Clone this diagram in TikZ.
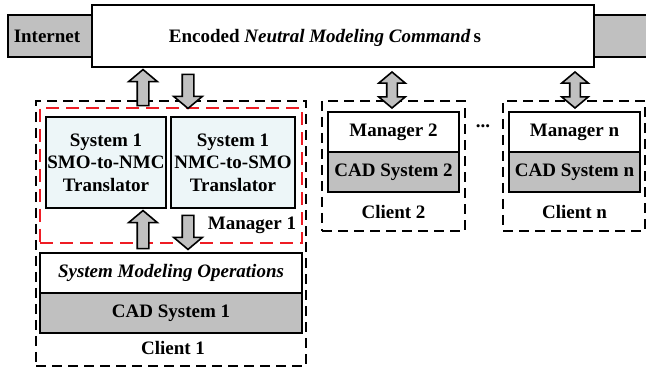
\documentclass[tikz,border=0pt]{standalone}
\usepackage{fontspec}
\setmainfont{Liberation Serif}
\usetikzlibrary{shapes.arrows}
\definecolor{my_gray}{HTML}{C0C0C0}
\definecolor{my_lightcyan}{HTML}{EDF6F8}
\definecolor{my_red}{HTML}{EE1C24}

\begin{document}
\begin{tikzpicture}[
    x=1pt, y=-1pt,
    font=\fontsize{19}{22.5}\selectfont\bfseries,
    box/.style={draw, line width=2pt, rectangle, inner sep=0pt, align=center},
    client/.style={draw, dash pattern=on 10pt off 6pt, line width=2.5pt, inner sep=0pt},
    redline/.style={client, draw=my_red, dash pattern=on 13pt off 7pt},
    uparrow/.style={single arrow, draw, fill=my_gray, line width=1.6pt,
        inner xsep=0pt, inner ysep=5pt, single arrow head extend=8.5pt,
        single arrow tip angle=100, minimum height=#1, rotate=90},
    downarrow/.style={uparrow=#1, rotate=180},
    bothways/.style={double arrow, draw, fill=my_gray, line width=1.6pt,
        inner xsep=0pt, inner ysep=4.5pt, double arrow head extend=8pt,
        double arrow tip angle=100, minimum height=36pt, rotate=90}
]
\useasboundingbox (0,0) rectangle (646,374);

% ---------------------------------------------------------------
%  Internet bar and the encoded command box on top of it
% ---------------------------------------------------------------
\node[box, fill=my_gray, minimum width=650pt, minimum height=42pt, anchor=west]
    (net) at (7,36) {};
\node (nettxt) at (47,36) {Internet};
\node[box, fill=white, minimum width=502pt, minimum height=62pt] (enc) at (343,36) {};
\node (enctxt) at (325,38) {Encoded \textit{Neutral Modeling Command}\,s};

% ---- Client frames (dashed) ----
\node[client, minimum width=270pt, minimum height=265pt] (client1) at (171,233.5) {};
\node[client, minimum width=143pt, minimum height=130pt] (client2) at (393.5,166) {};
\node[client, minimum width=142pt, minimum height=130pt] (clientn) at (574,166) {};
\node[redline, minimum width=262pt, minimum height=135pt] (mgr1box) at (171,175.5) {};

% ---- Client 1 ----
\node[box, fill=my_lightcyan, minimum width=120pt, minimum height=91pt]
    (smo2nmc) at (106,162.5) {System 1\\SMO-to-NMC\\Translator};
\node[box, fill=my_lightcyan, minimum width=124pt, minimum height=91pt]
    (nmc2smo) at (233,162.5) {System 1\\NMC-to-SMO\\Translator};
\node (mgr1) at (252,225) {Manager 1};
\node[box, fill=white, minimum width=262pt, minimum height=40pt]
    (smo) at (171,273) {\textit{System Modeling Operations}};
\node[box, fill=my_gray, minimum width=262pt, minimum height=40pt]
    (cad1) at (171,313) {CAD System 1};
\node (client1txt) at (173,348) {Client 1};

% ---- Client 2 ----
\node[box, fill=white, minimum width=131pt, minimum height=40pt]
    (mgr2) at (393.5,132) {Manager 2};
\node[box, fill=my_gray, minimum width=131pt, minimum height=40pt]
    (cad2) at (393.5,172) {CAD System 2};
\node (client2txt) at (393.5,212) {Client 2};

\node (dots) at (483,126) {...};

% ---- Client n ----
\node[box, fill=white, minimum width=131pt, minimum height=40pt]
    (mgrn) at (574.5,132) {Manager n};
\node[box, fill=my_gray, minimum width=131pt, minimum height=40pt]
    (cadn) at (574.5,172) {CAD System n};
\node (clientntxt) at (574.5,212) {Client n};

% ---- Block arrows ----
\node[uparrow=36pt]   (up1)   at (143,90) {};
\node[downarrow=34pt] (down1) at (188,89) {};
\node[uparrow=38pt]   (up2)   at (143,232) {};
\node[downarrow=34pt] (down2) at (188,230) {};
\node[bothways] (link2) at (392,90) {};
\node[bothways] (linkn) at (575,90) {};

\end{tikzpicture}
\end{document}
